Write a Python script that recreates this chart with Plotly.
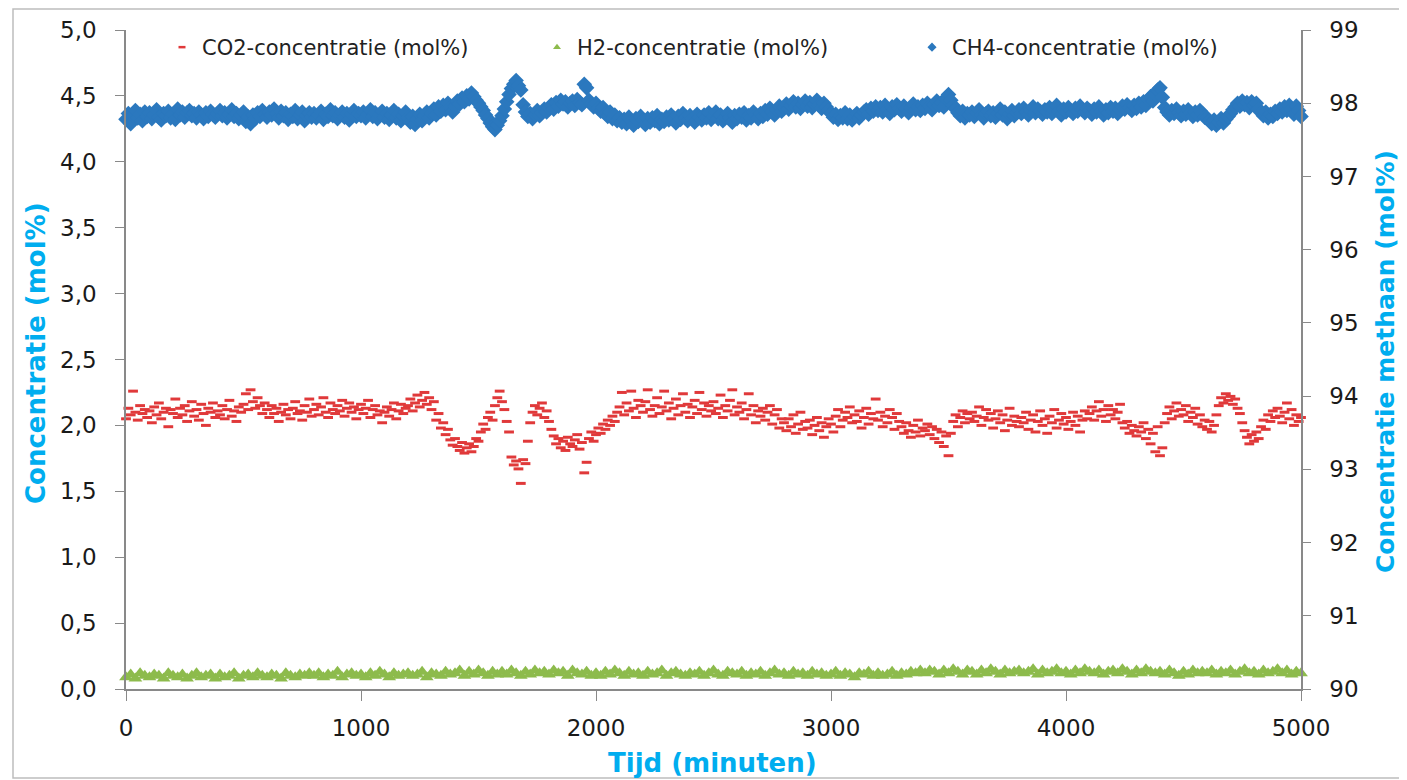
import plotly.graph_objects as go

# time axis (minutes), 10-minute sampling for CO2 / CH4, 20-minute for H2
tijd_10 = list(range(0, 5001, 10))
tijd_20 = list(range(0, 5001, 20))

co2 = [
    2.05, 2.13, 2.08, 2.26, 2.10, 2.04, 2.15, 2.09, 2.12, 2.06,
    2.11, 2.02, 2.14, 2.08, 2.17, 2.05, 2.10, 2.13, 1.99, 2.12,
    2.09, 2.20, 2.06, 2.13, 2.08, 2.15, 2.03, 2.11, 2.18, 2.07,
    2.12, 2.04, 2.16, 2.09, 2.00, 2.13, 2.10, 2.17, 2.06, 2.11,
    2.08, 2.15, 2.05, 2.12, 2.19, 2.07, 2.11, 2.03, 2.14, 2.10,
    2.16, 2.24, 2.12, 2.27, 2.18, 2.13, 2.21, 2.15, 2.09, 2.17,
    2.12, 2.06, 2.15, 2.09, 2.13, 2.03, 2.10, 2.16, 2.08, 2.12,
    2.05, 2.13, 2.18, 2.09, 2.11, 2.04, 2.15, 2.10, 2.20, 2.07,
    2.12, 2.16, 2.08, 2.14, 2.21, 2.10, 2.06, 2.17, 2.12, 2.09,
    2.15, 2.11, 2.19, 2.07, 2.13, 2.17, 2.10, 2.14, 2.05, 2.12,
    2.16, 2.09, 2.13, 2.19, 2.06, 2.12, 2.15, 2.08, 2.11, 2.02,
    2.10, 2.14, 2.07, 2.12, 2.17, 2.05, 2.11, 2.16, 2.09, 2.13,
    2.15, 2.20, 2.11, 2.17, 2.23, 2.14, 2.19, 2.25, 2.16, 2.21,
    2.12, 2.18, 2.04, 2.09, 1.98, 2.02, 1.93, 1.97, 1.89, 1.85,
    1.90, 1.84, 1.81, 1.87, 1.79, 1.83, 1.86, 1.80, 1.84, 1.90,
    1.88, 1.95, 2.01, 1.97, 2.06, 2.10, 2.04, 2.15, 2.21, 2.26,
    2.18, 2.12, 2.03, 1.95, 1.76, 1.70, 1.73, 1.67, 1.56, 1.74,
    1.71, 1.88, 2.02, 2.10, 2.15, 2.08, 2.13, 2.17, 2.06, 2.11,
    2.03, 1.97, 1.92, 1.86, 1.90, 1.83, 1.88, 1.81, 1.91, 1.86,
    1.84, 1.89, 1.93, 1.82, 1.87, 1.64, 1.72, 1.90, 1.95, 1.88,
    1.93, 1.98, 1.94, 2.01, 1.97, 2.04, 2.00, 2.07, 2.03, 2.10,
    2.14, 2.25, 2.08, 2.17, 2.11, 2.26, 2.13, 2.06, 2.19, 2.15,
    2.10, 2.18, 2.27, 2.12, 2.07, 2.15, 2.21, 2.09, 2.14, 2.26,
    2.11, 2.17, 2.05, 2.13, 2.20, 2.08, 2.15, 2.24, 2.10, 2.16,
    2.06, 2.14, 2.19, 2.09, 2.25, 2.12, 2.17, 2.07, 2.15, 2.11,
    2.18, 2.09, 2.13, 2.23, 2.06, 2.15, 2.11, 2.19, 2.27, 2.08,
    2.14, 2.10, 2.17, 2.05, 2.12, 2.24, 2.08, 2.15, 2.02, 2.11,
    2.07, 2.13, 2.04, 2.10, 2.15, 2.01, 2.08, 2.12, 1.98, 2.05,
    2.02, 1.96, 2.05, 1.99, 2.08, 1.94, 2.01, 2.10, 1.97, 2.03,
    1.98, 2.04, 1.93, 2.00, 2.06, 1.96, 2.02, 1.91, 1.99, 2.05,
    2.01, 1.95, 2.07, 2.12, 1.99, 2.04, 2.10, 2.06, 2.14, 2.02,
    2.08, 2.03, 2.11, 1.98, 2.06, 2.13, 2.01, 2.09, 2.05, 2.20,
    2.04, 2.10, 1.99, 2.07, 2.02, 2.12, 2.06, 1.97, 2.09, 2.03,
    1.99, 1.94, 2.02, 1.96, 1.91, 2.00, 1.95, 2.04, 1.92, 1.98,
    1.96, 2.01, 1.93, 1.99, 1.90, 1.97, 1.87, 1.95, 1.84, 1.92,
    1.77, 1.94, 2.03, 2.08, 1.99, 2.06, 2.11, 2.02, 2.09, 2.05,
    2.10, 2.03, 2.07, 2.14, 2.00, 2.06, 2.12, 2.04, 2.09, 1.98,
    2.05, 2.11, 2.02, 2.08, 1.96, 2.04, 2.13, 2.00, 2.07, 2.03,
    1.99, 2.06, 2.02, 2.10, 1.97, 2.04, 2.08, 1.95, 2.03, 2.11,
    2.00, 2.05, 1.94, 2.07, 2.02, 2.12, 1.98, 2.04, 2.09, 2.01,
    2.06, 1.97, 2.03, 2.10, 2.00, 2.07, 1.95, 2.04, 2.11, 2.05,
    2.09, 2.14, 2.04, 2.11, 2.18, 2.07, 2.12, 2.03, 2.15, 2.08,
    2.12, 2.05, 2.10, 2.16, 2.02, 1.98, 2.03, 1.94, 2.00, 1.96,
    1.92, 1.99, 1.95, 2.02, 1.90, 1.97, 1.86, 1.94, 1.80, 1.99,
    1.77, 1.83, 2.02, 2.09, 2.14, 2.05, 2.11, 2.17, 2.07, 2.12,
    2.08, 2.15, 2.03, 2.10, 2.06, 2.13, 2.01, 2.08, 1.99, 2.04,
    1.97, 2.03, 1.95, 2.00, 2.08, 2.15, 2.21, 2.17, 2.24, 2.19,
    2.22, 2.16, 2.20, 2.13, 2.09, 2.02, 1.96, 1.91, 1.86, 1.93,
    1.88, 1.95, 1.90, 1.99, 2.04, 1.97, 2.08, 2.03, 2.11, 2.06,
    2.13, 2.07, 2.02, 2.10, 2.17, 2.05, 2.12, 2.00, 2.08, 2.03,
    2.06,
]

ch4 = [
    97.78, 97.86, 97.72, 97.83, 97.90, 97.80, 97.85, 97.76, 97.88, 97.82,
    97.87, 97.79, 97.84, 97.91, 97.81, 97.77, 97.86, 97.83, 97.89, 97.80,
    97.85, 97.78, 97.92, 97.84, 97.88, 97.81, 97.87, 97.90, 97.83, 97.86,
    97.80, 97.88, 97.84, 97.79, 97.87, 97.82, 97.89, 97.85, 97.81, 97.86,
    97.90, 97.83, 97.87, 97.80, 97.85, 97.91, 97.82, 97.86, 97.79, 97.84,
    97.88, 97.75, 97.81, 97.72, 97.84, 97.79, 97.87, 97.82, 97.90, 97.85,
    97.81, 97.88, 97.84, 97.92, 97.86, 97.80, 97.89, 97.83, 97.87, 97.78,
    97.85, 97.82, 97.90, 97.79, 97.84, 97.88, 97.76, 97.83, 97.87, 97.81,
    97.86, 97.80, 97.84, 97.89, 97.78, 97.85, 97.82, 97.91, 97.83, 97.87,
    97.79, 97.84, 97.88, 97.81, 97.86, 97.77, 97.85, 97.90, 97.82, 97.86,
    97.83, 97.88, 97.80, 97.85, 97.91, 97.82, 97.87, 97.79, 97.84, 97.89,
    97.81, 97.86, 97.78, 97.84, 97.90, 97.80, 97.85, 97.76, 97.83, 97.88,
    97.80, 97.74, 97.82, 97.71, 97.78, 97.85, 97.76, 97.83, 97.88, 97.80,
    97.86, 97.92, 97.84, 97.95, 97.89, 97.97, 97.91, 98.00, 97.94, 97.88,
    97.96, 98.03, 97.99, 98.07, 98.02, 98.10, 98.06, 98.14, 98.09, 98.04,
    98.00, 97.95, 97.90, 97.84, 97.79, 97.73, 97.68, 97.64, 97.70, 97.76,
    97.83, 97.92, 98.02, 98.12, 98.20, 98.26, 98.31, 98.24, 98.18, 97.98,
    97.88, 97.82, 97.86, 97.79, 97.84, 97.90, 97.83, 97.87, 97.92, 97.88,
    97.94, 97.98, 97.92, 98.01, 97.96, 98.04, 97.99, 98.02, 97.95, 98.00,
    98.03, 97.97, 98.05, 98.01, 97.98, 98.26, 98.21, 98.04, 97.99, 97.95,
    98.00, 97.93, 97.89, 97.94, 97.86, 97.82, 97.88, 97.79, 97.84, 97.76,
    97.80, 97.74, 97.78, 97.72, 97.81, 97.76, 97.70, 97.79, 97.75, 97.82,
    97.77, 97.71, 97.79, 97.74, 97.80, 97.76, 97.83, 97.72, 97.78, 97.75,
    97.81, 97.77, 97.84, 97.79, 97.73, 97.82, 97.78, 97.86, 97.80, 97.76,
    97.83, 97.79, 97.74, 97.85, 97.81, 97.77, 97.84, 97.80, 97.87, 97.78,
    97.82, 97.88, 97.79, 97.84, 97.76, 97.81, 97.86, 97.80, 97.74, 97.83,
    97.79, 97.85, 97.81, 97.87, 97.77, 97.83, 97.80, 97.88, 97.84, 97.79,
    97.86, 97.82, 97.90, 97.85, 97.93, 97.88, 97.84, 97.91, 97.96, 97.89,
    97.94, 97.99, 97.92, 97.97, 98.02, 97.95, 98.00, 97.93, 97.98, 98.03,
    97.96, 98.01, 97.94, 97.99, 98.04, 97.97, 97.93, 98.00, 97.95, 97.90,
    97.86, 97.81, 97.85, 97.78, 97.83, 97.80, 97.87, 97.79, 97.84, 97.77,
    97.82, 97.86, 97.80, 97.84, 97.88, 97.91, 97.85, 97.93, 97.89, 97.95,
    97.90, 97.94, 97.88, 97.97, 97.92, 97.86, 97.95, 97.91, 97.98, 97.93,
    97.89, 97.96, 97.92, 97.87, 97.94, 97.99, 97.91, 97.95, 97.90, 97.97,
    97.93, 98.00, 97.96, 97.91, 97.98, 98.03, 97.97, 98.01, 97.95, 98.06,
    98.12, 98.04, 97.97, 97.92, 97.87, 97.83, 97.89, 97.80, 97.86, 97.84,
    97.88, 97.82, 97.87, 97.91, 97.84, 97.80, 97.86, 97.89, 97.83, 97.87,
    97.81, 97.86, 97.92, 97.84, 97.88, 97.79, 97.85, 97.90, 97.83, 97.87,
    97.91, 97.86, 97.93, 97.88, 97.84, 97.90, 97.95, 97.87, 97.92, 97.89,
    97.85, 97.91, 97.88, 97.94, 97.86, 97.90, 97.97, 97.89, 97.84, 97.92,
    97.88, 97.94, 97.90, 97.86, 97.93, 97.89, 97.96, 97.91, 97.87, 97.93,
    97.90, 97.85, 97.92, 97.88, 97.95, 97.89, 97.84, 97.91, 97.87, 97.94,
    97.89, 97.93, 97.86, 97.91, 97.96, 97.92, 97.98, 97.94, 97.90, 97.97,
    97.93, 98.00, 97.95, 98.02, 97.97, 98.05, 98.09, 98.03, 98.12, 98.18,
    98.21, 98.08, 97.94, 97.88, 97.84, 97.90, 97.86, 97.92, 97.87, 97.83,
    97.89, 97.85, 97.91, 97.87, 97.82, 97.88, 97.84, 97.90, 97.86, 97.81,
    97.80, 97.76, 97.72, 97.77, 97.70, 97.74, 97.79, 97.73, 97.78, 97.82,
    97.86, 97.91, 97.95, 98.00, 97.96, 98.03, 97.98, 98.01, 97.94, 98.02,
    97.97, 98.00, 97.92, 97.87, 97.83, 97.88, 97.80, 97.85, 97.82, 97.89,
    97.86, 97.92, 97.88, 97.95, 97.90, 97.97, 97.92, 97.85, 97.96, 97.90,
    97.82,
]

h2 = [
    0.09, 0.11, 0.08, 0.12, 0.10, 0.09, 0.11, 0.10, 0.08, 0.12,
    0.10, 0.09, 0.11, 0.08, 0.10, 0.12, 0.09, 0.10, 0.11, 0.08,
    0.11, 0.09, 0.10, 0.12, 0.08, 0.10, 0.11, 0.09, 0.12, 0.10,
    0.09, 0.11, 0.10, 0.08, 0.12, 0.10, 0.09, 0.11, 0.10, 0.12,
    0.10, 0.12, 0.09, 0.11, 0.10, 0.13, 0.09, 0.11, 0.12, 0.10,
    0.11, 0.09, 0.12, 0.10, 0.13, 0.11, 0.09, 0.12, 0.10, 0.11,
    0.12, 0.10, 0.11, 0.13, 0.09, 0.12, 0.11, 0.10, 0.13, 0.11,
    0.12, 0.14, 0.10, 0.13, 0.11, 0.14, 0.12, 0.10, 0.13, 0.11,
    0.13, 0.11, 0.14, 0.12, 0.10, 0.13, 0.11, 0.14, 0.12, 0.13,
    0.11, 0.14, 0.12, 0.13, 0.10, 0.14, 0.12, 0.11, 0.13, 0.10,
    0.12, 0.10, 0.13, 0.11, 0.14, 0.12, 0.10, 0.13, 0.11, 0.12,
    0.10, 0.13, 0.11, 0.12, 0.14, 0.10, 0.12, 0.13, 0.11, 0.10,
    0.12, 0.11, 0.13, 0.10, 0.12, 0.14, 0.11, 0.10, 0.13, 0.12,
    0.11, 0.13, 0.10, 0.12, 0.11, 0.13, 0.10, 0.12, 0.14, 0.11,
    0.12, 0.10, 0.13, 0.11, 0.12, 0.10, 0.13, 0.11, 0.12, 0.10,
    0.11, 0.13, 0.10, 0.12, 0.11, 0.09, 0.12, 0.11, 0.13, 0.10,
    0.12, 0.10, 0.11, 0.13, 0.10, 0.12, 0.11, 0.13, 0.12, 0.14,
    0.12, 0.14, 0.13, 0.11, 0.14, 0.12, 0.15, 0.13, 0.11, 0.14,
    0.13, 0.11, 0.14, 0.12, 0.15, 0.13, 0.11, 0.14, 0.12, 0.13,
    0.14, 0.12, 0.13, 0.15, 0.11, 0.14, 0.12, 0.13, 0.15, 0.12,
    0.13, 0.11, 0.14, 0.12, 0.15, 0.13, 0.12, 0.14, 0.11, 0.13,
    0.14, 0.12, 0.15, 0.13, 0.11, 0.14, 0.12, 0.15, 0.13, 0.12,
    0.13, 0.11, 0.14, 0.12, 0.10, 0.13, 0.11, 0.14, 0.12, 0.13,
    0.12, 0.14, 0.11, 0.13, 0.12, 0.14, 0.11, 0.13, 0.15, 0.12,
    0.13, 0.11, 0.14, 0.12, 0.13, 0.15, 0.12, 0.14, 0.11, 0.13,
    0.12,
]

series_names = ["CO2-concentratie (mol%)", "H2-concentratie (mol%)", "CH4-concentratie (mol%)"]
x_ticks = [0, 1000, 2000, 3000, 4000, 5000]
y_left_ticks = [0.0, 0.5, 1.0, 1.5, 2.0, 2.5, 3.0, 3.5, 4.0, 4.5, 5.0]
y_right_ticks = [90, 91, 92, 93, 94, 95, 96, 97, 98, 99]

RED = "#E0393A"
GREEN = "#8DBB4C"
BLUE = "#2B78BE"
CYAN = "#00ADEF"
AXIS = "#898989"
FONT = "DejaVu Sans"

fig = go.Figure()
fig.add_trace(go.Scatter(
    x=tijd_10, y=co2, mode="markers", name=series_names[0], showlegend=False,
    marker=dict(symbol="line-ew", size=7, color=RED, line=dict(width=3, color=RED)),
    cliponaxis=False,
))
fig.add_trace(go.Scatter(
    x=tijd_20, y=h2, mode="markers", name=series_names[1], showlegend=False,
    marker=dict(symbol="triangle-up", size=12, color=GREEN, line=dict(width=0)),
    cliponaxis=False,
))
fig.add_trace(go.Scatter(
    x=tijd_10, y=ch4, mode="markers", name=series_names[2], yaxis="y2", showlegend=False,
    marker=dict(symbol="diamond", size=12, color=BLUE, line=dict(width=0)),
    cliponaxis=False,
))
# legend-only entries with the small swatches of the original
fig.add_trace(go.Scatter(
    x=[None], y=[None], mode="markers", name=series_names[0],
    marker=dict(symbol="line-ew", size=5, color=RED, line=dict(width=2.5, color=RED)),
))
fig.add_trace(go.Scatter(
    x=[None], y=[None], mode="markers", name=series_names[1],
    marker=dict(symbol="triangle-up", size=7, color=GREEN, line=dict(width=0)),
))
fig.add_trace(go.Scatter(
    x=[None], y=[None], mode="markers", name=series_names[2],
    marker=dict(symbol="diamond", size=7, color=BLUE, line=dict(width=0)),
))

# the page body adds an 8 px offset, so figure coords = page coords - 8
OFF = 8
W, H = 1399, 772
L, T = 118, 22
PW, PH = 1175, 659
R = W - L - PW
B = H - T - PH

def px_x(p):
    return (p - OFF - L) / PW

def px_y(p):
    return (T + PH - (p - OFF)) / PH

fig.update_layout(
    width=W, height=H,
    margin=dict(l=L, r=R, t=T, b=B, autoexpand=False),
    paper_bgcolor="white", plot_bgcolor="white",
    separators=",.",
    font=dict(family=FONT, size=23, color="#1a1a1a"),
    showlegend=True,
    legend=dict(
        orientation="h", x=px_x(162), y=px_y(27), xanchor="left", yanchor="top",
        bgcolor="rgba(0,0,0,0)", font=dict(size=21, color="#222"),
        entrywidth=330, entrywidthmode="pixels", itemwidth=30,
    ),
    xaxis=dict(
        range=[0, 5000], tickvals=x_ticks, showgrid=False, zeroline=False,
        showline=True, linecolor=AXIS, linewidth=1.5,
        ticks="outside", ticklen=10, tickcolor=AXIS, tickfont=dict(size=23),
        ticklabelstandoff=8,
    ),
    yaxis=dict(
        range=[0, 5], tickvals=y_left_ticks, tickformat=".1f", showgrid=False,
        zeroline=False, showline=True, linecolor=AXIS, linewidth=1.5,
        ticks="outside", ticklen=9, tickcolor=AXIS, tickfont=dict(size=23),
        ticklabelstandoff=14,
    ),
    yaxis2=dict(
        range=[90, 99], tickvals=y_right_ticks, overlaying="y", side="right",
        showgrid=False, zeroline=False, showline=True, linecolor=AXIS, linewidth=1.5,
        ticks="outside", ticklen=8, tickcolor=AXIS, tickfont=dict(size=23),
        ticklabelstandoff=14,
    ),
    annotations=[
        dict(text="<b>Concentratie (mol%)</b>", xref="paper", yref="paper",
             x=px_x(36), y=px_y(353), textangle=-90, showarrow=False,
             font=dict(size=26, color=CYAN), xanchor="center", yanchor="middle"),
        dict(text="<b>Concentratie methaan (mol%)</b>", xref="paper", yref="paper",
             x=px_x(1385), y=px_y(362), textangle=-90, showarrow=False,
             font=dict(size=25, color=CYAN), xanchor="center", yanchor="middle"),
        dict(text="<b>Tijd (minuten)</b>", xref="paper", yref="paper",
             x=px_x(712), y=px_y(763), showarrow=False,
             font=dict(size=26, color=CYAN), xanchor="center", yanchor="middle"),
    ],
    shapes=[
        dict(type="rect", xref="paper", yref="paper",
             x0=px_x(13), x1=px_x(1401), y0=px_y(778), y1=px_y(9),
             line=dict(color="#BDBDBD", width=1.5), fillcolor="rgba(0,0,0,0)", layer="below"),
    ],
)

fig.write_html("out.html")
